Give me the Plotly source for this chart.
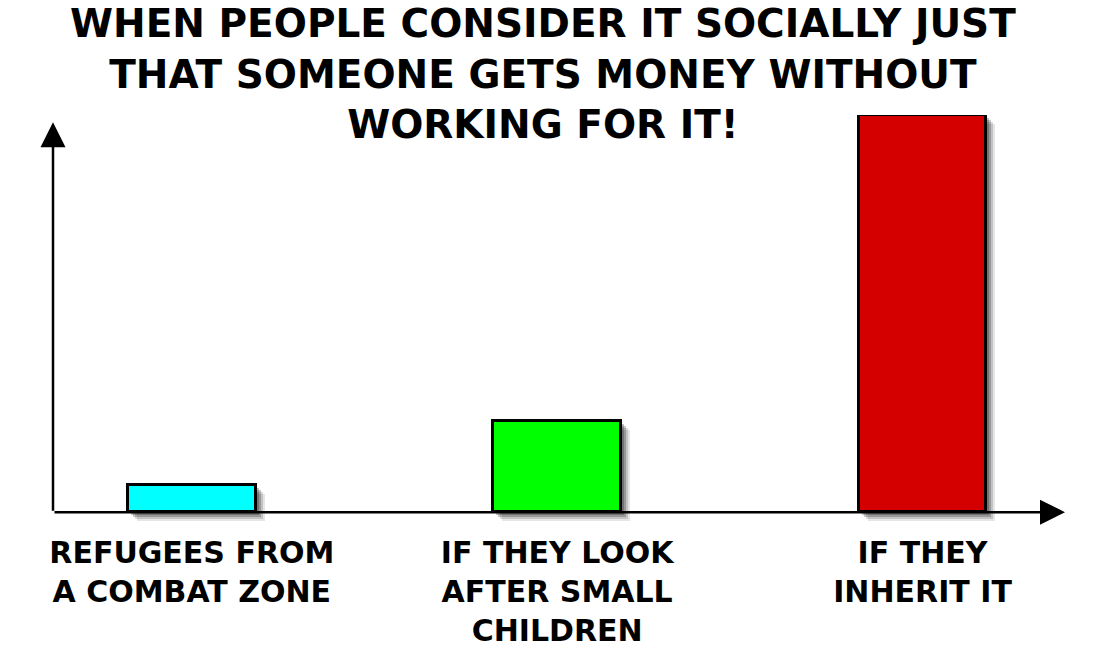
import plotly.graph_objects as go

categories = ["REFUGEES FROM<br>A COMBAT ZONE", "IF THEY LOOK<br>AFTER SMALL<br>CHILDREN", "IF THEY<br>INHERIT IT"]
values = [6.8, 22.9, 100]
colors = ["#00FFFF", "#00FF00", "#D40000"]
title_text = "WHEN PEOPLE CONSIDER IT SOCIALLY JUST<br>THAT SOMEONE GETS MONEY WITHOUT<br>WORKING FOR IT!"

FONT = "DejaVu Sans"
BAR_W = 0.35
X_RANGE = [-0.38, 2.39]
Y_RANGE = [-5, 100]
Y_ARROW_TIP = 98.2
ML, MR, MT, MB = 53, 29, 115, 122
W, H = 1094, 654

fig = go.Figure()

# soft drop shadows (layered for a blur effect)
px_x = (W - ML - MR) / (X_RANGE[1] - X_RANGE[0])
px_y = (H - MT - MB) / (Y_RANGE[1] - Y_RANGE[0])
for d, a in [(9, 0.10), (7, 0.15), (5, 0.22), (3, 0.25)]:
    fig.add_trace(go.Bar(
        x=categories, y=values, base=[-d / px_y] * len(values),
        width=BAR_W, offset=-BAR_W / 2 + d / px_x,
        marker=dict(color=f"rgba(0,0,0,{a})", line=dict(width=0)),
        hoverinfo="skip", showlegend=False))

fig.add_trace(go.Bar(
    x=categories, y=values, width=BAR_W, offset=-BAR_W / 2,
    marker=dict(color=colors, line=dict(color="black", width=3)),
    showlegend=False))

# axes drawn as arrows
fig.add_annotation(x=X_RANGE[0], y=Y_ARROW_TIP, ax=X_RANGE[0], ay=0,
                   xref="x", yref="y", axref="x", ayref="y", text="",
                   showarrow=True, arrowhead=2, arrowsize=2.0, arrowwidth=2.5,
                   arrowcolor="black", standoff=0, startstandoff=0)
fig.add_annotation(x=X_RANGE[1], y=0, ax=X_RANGE[0], ay=0,
                   xref="x", yref="y", axref="x", ayref="y", text="",
                   showarrow=True, arrowhead=2, arrowsize=2.0, arrowwidth=2.5,
                   arrowcolor="black", standoff=0, startstandoff=0)

# title
plot_h = H - MT - MB
fig.add_annotation(text=title_text, xref="paper", yref="paper",
                   x=(543 - ML) / (W - ML - MR), y=1 + (MT + 1) / plot_h,
                   xanchor="center", yanchor="top", showarrow=False, align="center",
                   font=dict(family=FONT, size=39, color="black", weight="bold"))

fig.update_layout(
    width=W, height=H,
    margin=dict(l=ML, r=MR, t=MT, b=MB, autoexpand=False),
    paper_bgcolor="white", plot_bgcolor="white",
    barmode="overlay", bargap=0,
    xaxis=dict(type="category", range=X_RANGE, showgrid=False, zeroline=False,
               showline=False, ticks="", automargin=False,
               tickfont=dict(family=FONT, size=30, color="black", weight="bold")),
    yaxis=dict(range=Y_RANGE, showgrid=False, zeroline=False, showline=False,
               showticklabels=False, ticks="", automargin=False),
)

fig.write_html("out.html", config={"displayModeBar": False},
               post_script="document.body.style.margin='0';")
